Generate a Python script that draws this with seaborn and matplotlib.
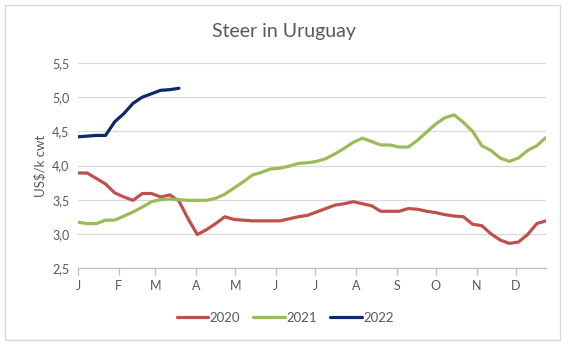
import numpy as np
import pandas as pd
import matplotlib
matplotlib.use("Agg")
import matplotlib.pyplot as plt
import seaborn as sns
from matplotlib.ticker import FuncFormatter
from matplotlib.patches import Rectangle

# ---- data (weekly prices, US$/kg cwt) ----
month_labels = ["J", "F", "M", "A", "M", "J", "J", "A", "S", "O", "N", "D"]
month_start_days = [0, 31, 59, 90, 120, 151, 181, 212, 243, 273, 304, 334]

y2020 = [3.89, 3.89, 3.81, 3.73, 3.60, 3.54, 3.49, 3.59, 3.59, 3.54, 3.57, 3.48,
         3.22, 2.99, 3.06, 3.15, 3.25, 3.21, 3.20, 3.19, 3.19, 3.19, 3.19, 3.22,
         3.25, 3.27, 3.32, 3.37, 3.42, 3.44, 3.47, 3.44, 3.41, 3.33, 3.33, 3.33,
         3.37, 3.36, 3.33, 3.31, 3.28, 3.26, 3.25, 3.14, 3.12, 3.00, 2.91, 2.86,
         2.88, 2.99, 3.15, 3.19]
y2021 = [3.17, 3.15, 3.15, 3.20, 3.20, 3.26, 3.32, 3.39, 3.47, 3.50, 3.51, 3.50,
         3.49, 3.49, 3.49, 3.52, 3.58, 3.67, 3.76, 3.86, 3.90, 3.95, 3.96, 3.99,
         4.03, 4.04, 4.06, 4.10, 4.17, 4.25, 4.34, 4.40, 4.35, 4.30, 4.30, 4.27,
         4.27, 4.37, 4.49, 4.61, 4.70, 4.74, 4.63, 4.50, 4.29, 4.22, 4.11, 4.06,
         4.11, 4.22, 4.29, 4.41]
y2022 = [4.42, 4.43, 4.44, 4.44, 4.64, 4.76, 4.91, 5.00, 5.05, 5.10, 5.11, 5.13]

series = {"2020": y2020, "2021": y2021, "2022": y2022}
colors = {"2020": "#C0504D", "2021": "#9BBB59", "2022": "#0B2A6B"}

rows = []
for yr, vals in series.items():
    for w, v in enumerate(vals):
        rows.append({"week": w, "value": v, "year": yr})
df = pd.DataFrame(rows)

# ---- figure ----
sns.set_theme(style="white")
plt.rcParams["font.family"] = ["Lato", "DejaVu Sans"]

fig = plt.figure(figsize=(5.68, 3.48), dpi=100)
ax = fig.add_axes([78 / 568, 1 - 268 / 348, (546 - 78) / 568, (268 - 63) / 348])

sns.lineplot(data=df, x="week", y="value", hue="year", palette=colors,
             linewidth=2.3, ax=ax, legend=False, sort=False)

ax.set_xlim(0, 51)
ax.set_ylim(2.5, 5.5)
ax.set_yticks([2.5, 3.0, 3.5, 4.0, 4.5, 5.0, 5.5])
ax.yaxis.set_major_formatter(FuncFormatter(lambda v, p: f"{v:.1f}".replace(".", ",")))
ax.set_xticks([d / 7 for d in month_start_days])
ax.set_xticklabels(month_labels)

ax.grid(axis="y", color="#d9d9d9", linewidth=0.9)
ax.set_axisbelow(True)
for s in ["top", "right", "left"]:
    ax.spines[s].set_visible(False)
ax.spines["bottom"].set_color("#bfbfbf")
ax.spines["bottom"].set_linewidth(0.9)
ax.tick_params(axis="x", which="major", length=5, width=0.9, color="#bfbfbf",
               labelsize=9, labelcolor="#595959", pad=4, bottom=True, direction="out")
ax.tick_params(axis="y", length=0, labelsize=9, labelcolor="#595959", pad=6)
ax.set_xlabel("")
ax.set_ylabel("US$/k cwt", fontsize=9.5, color="#595959", labelpad=4)

fig.text(284 / 568, 1 - 32 / 348, "Steer in Uruguay", ha="center", va="center",
         fontsize=14, color="#595959")

handles = [plt.Line2D([0], [0], color=colors[k], linewidth=2.3) for k in series]
fig.legend(handles, list(series.keys()), loc="center", bbox_to_anchor=(285 / 568, 1 - 318 / 348),
           ncol=3, frameon=False, fontsize=9.5, handlelength=2.4, handletextpad=0.1,
           columnspacing=1.0, labelcolor="#595959")

fig.patches.append(Rectangle((5 / 568, 8 / 348), 555 / 568, 335 / 348, transform=fig.transFigure,
                             fill=False, edgecolor="#d9d9d9", linewidth=1.0))

fig.savefig("out.png", dpi=100)
